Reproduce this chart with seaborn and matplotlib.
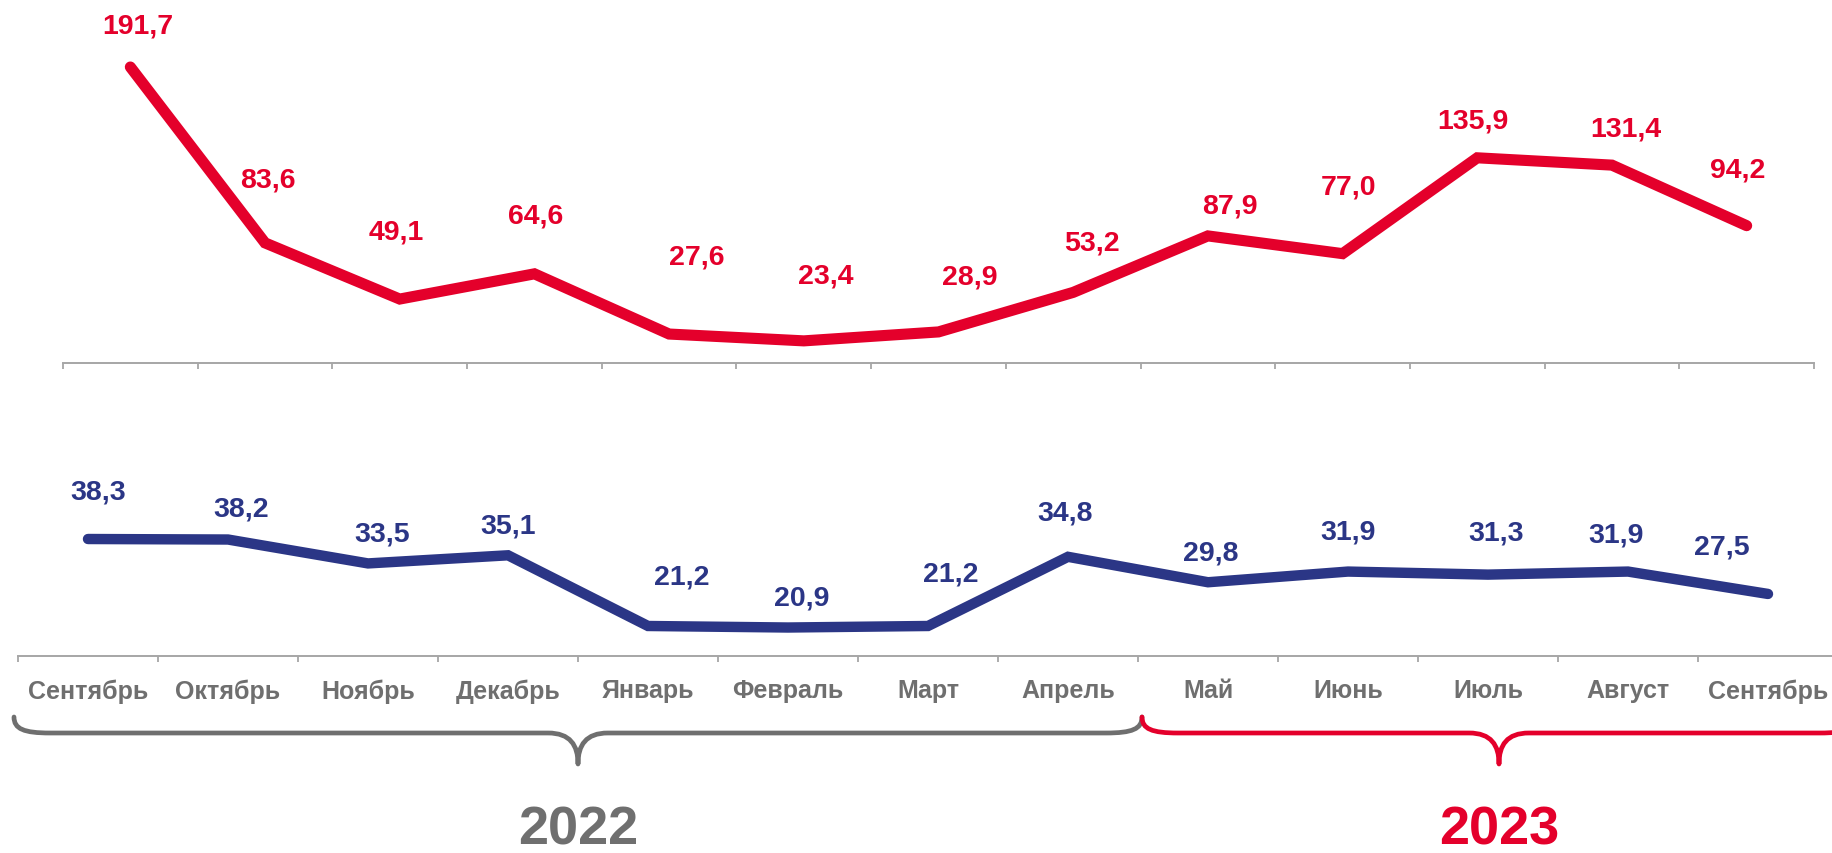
import matplotlib

matplotlib.use("Agg")
import matplotlib.pyplot as plt
import numpy as np
import pandas as pd
import seaborn as sns
from matplotlib.path import Path
from matplotlib.patches import PathPatch

# --------------------------------------------------------------------- #
# Data
# --------------------------------------------------------------------- #
MONTHS = ["Сентябрь", "Октябрь", "Ноябрь", "Декабрь", "Январь", "Февраль",
          "Март", "Апрель", "Май", "Июнь", "Июль", "Август", "Сентябрь"]
RED_VALUES = [191.7, 83.6, 49.1, 64.6, 27.6, 23.4, 28.9, 53.2, 87.9, 77.0,
              135.9, 131.4, 94.2]
BLUE_VALUES = [38.3, 38.2, 33.5, 35.1, 21.2, 20.9, 21.2, 34.8, 29.8, 31.9,
               31.3, 31.9, 27.5]
YEARS = ["2022", "2023"]

# label offsets in pixels (dx, dy) relative to each point
RED_DX = [7, 3, -3, 1, 28, 22, 31, 19, 22, 6, -4, 14, -9]
RED_DY = [42, 63, 68, 58, 78, 65, 55, 50, 30, 67, 37, 37, 56]
BLUE_DX = [10, 13, 14, 0, 34, 14, 23, -3, 3, 0, 8, -12, -46]
BLUE_DY = [48, 31, 30, 30, 49, 30, 52, 44, 30, 40, 42, 37, 47]

RED = "#E4002B"
BLUE = "#2B3686"
GRAY_TEXT = "#6F6F6F"
AXIS_GRAY = "#A6A6A6"

W, H = 1832, 854

sns.set_style("white")
plt.rcParams["font.family"] = ["Liberation Sans", "DejaVu Sans"]
plt.rcParams["font.weight"] = "bold"


def fmt(v):
    return f"{v:.1f}".replace(".", ",")


def style_axis(ax, n):
    for s in ["top", "left", "right"]:
        ax.spines[s].set_visible(False)
    ax.spines["bottom"].set_color(AXIS_GRAY)
    ax.spines["bottom"].set_linewidth(1.4)
    ax.set_xlim(-0.5, n - 0.5)
    ax.set_xticks(np.arange(n))
    ax.set_xticks(np.arange(n + 1) - 0.5, minor=True)
    ax.tick_params(axis="x", which="major", length=0, bottom=True)
    ax.tick_params(axis="x", which="minor", length=4.5, width=1.3,
                   color=AXIS_GRAY, direction="out", bottom=True)
    ax.set_yticks([])
    ax.set_xlabel("")
    ax.set_ylabel("")


def main():
    n = len(MONTHS)
    df = pd.DataFrame({"idx": np.arange(n), "red": RED_VALUES,
                       "blue": BLUE_VALUES})

    fig = plt.figure(figsize=(W / 100, H / 100), dpi=100)

    # overlay for braces and year labels (pixel coordinates)
    ov = fig.add_axes([0, 0, 1, 1], zorder=0)
    ov.set_xlim(0, W)
    ov.set_ylim(H, 0)
    ov.axis("off")

    # --- top chart (red) ---
    ax1 = fig.add_axes([63 / W, 1 - 364 / H, (1814 - 63) / W,
                        (364 - 54.5) / H], zorder=2)
    ax1.patch.set_alpha(0)
    sns.lineplot(data=df, x="idx", y="red", ax=ax1, color=RED, linewidth=8,
                 solid_capstyle="round", solid_joinstyle="miter")
    style_axis(ax1, n)
    ax1.set_ylim(9.8, 200)
    ax1.set_xticklabels([])
    for i, v in enumerate(RED_VALUES):
        ax1.annotate(fmt(v), (i, v), xytext=(RED_DX[i], RED_DY[i]),
                     textcoords="offset pixels", ha="center", va="center",
                     color=RED, fontsize=20.5, fontweight="bold",
                     annotation_clip=False)

    # --- bottom chart (blue) ---
    ax2 = fig.add_axes([18 / W, 1 - 657 / H, 1820 / W, (657 - 480.5) / H],
                       zorder=2)
    ax2.patch.set_alpha(0)
    sns.lineplot(data=df, x="idx", y="blue", ax=ax2, color=BLUE, linewidth=7.5,
                 solid_capstyle="round", solid_joinstyle="miter")
    style_axis(ax2, n)
    ax2.set_ylim(15.3, 50)
    ax2.set_xticklabels(MONTHS, fontsize=18, fontweight="bold",
                        color=GRAY_TEXT)
    ax2.tick_params(axis="x", which="major", pad=16)
    for i, v in enumerate(BLUE_VALUES):
        ax2.annotate(fmt(v), (i, v), xytext=(BLUE_DX[i], BLUE_DY[i]),
                     textcoords="offset pixels", ha="center", va="center",
                     color=BLUE, fontsize=20.5, fontweight="bold",
                     annotation_clip=False)

    # --- braces ---
    def brace(x0, x1, color):
        xm = (x0 + x1) / 2
        top, mid, tip = 718, 734, 765
        verts = [(x0, top), (x0, mid - 4), (x0 + 10, mid), (x0 + 36, mid),
                 (xm - 30, mid),
                 (xm - 8, mid), (xm, mid + 12), (xm, tip),
                 (xm, mid + 12), (xm + 8, mid), (xm + 30, mid),
                 (x1 - 36, mid),
                 (x1 - 10, mid), (x1, mid - 4), (x1, top)]
        codes = [Path.MOVETO, Path.CURVE4, Path.CURVE4, Path.CURVE4,
                 Path.LINETO,
                 Path.CURVE4, Path.CURVE4, Path.CURVE4,
                 Path.CURVE4, Path.CURVE4, Path.CURVE4,
                 Path.LINETO,
                 Path.CURVE4, Path.CURVE4, Path.CURVE4]
        ov.add_patch(PathPatch(Path(verts, codes), facecolor="none",
                               edgecolor=color, linewidth=3.4,
                               capstyle="round", joinstyle="round"))
        return xm

    xm1 = brace(14, 1142, GRAY_TEXT)
    xm2 = brace(1142, 1856, RED)

    ov.text(xm1, 845, YEARS[0], ha="center", va="baseline", fontsize=39,
            fontweight="bold", color=GRAY_TEXT)
    ov.text(xm2, 845, YEARS[1], ha="center", va="baseline", fontsize=39,
            fontweight="bold", color=RED)

    fig.savefig("out.png", dpi=100)
    plt.close(fig)


if __name__ == "__main__":
    main()
